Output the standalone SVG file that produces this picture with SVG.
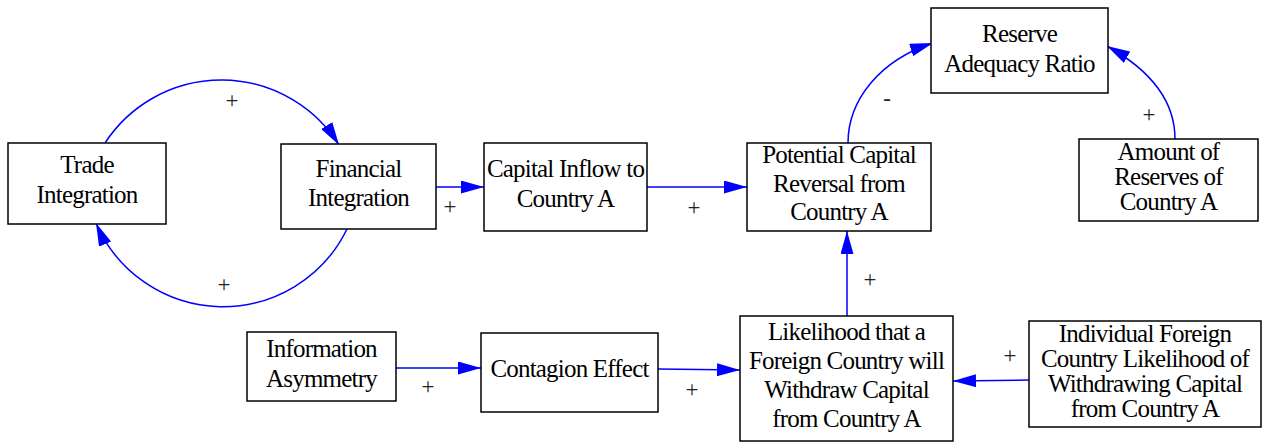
<svg xmlns="http://www.w3.org/2000/svg" width="1263" height="442" viewBox="0 0 1263 442">
<style>
.box{fill:#fff;stroke:#000;stroke-width:1.5}
.t{font-family:"Liberation Serif","Times New Roman",serif;font-size:25px;letter-spacing:-0.8px;fill:#000;text-anchor:middle}
.lbl{font-family:"Liberation Serif","Times New Roman",serif;font-size:23px;fill:#222;text-anchor:middle}
.e{fill:none;stroke:#0000ff;stroke-width:1.5;marker-end:url(#ah)}
</style>
<defs>
<marker id="ah" markerUnits="userSpaceOnUse" markerWidth="23" markerHeight="13" viewBox="0 0 23 13" refX="23" refY="6.5" orient="auto">
<path d="M0,0 L23,6.5 L0,13 z" fill="#0000ff"/>
</marker>
</defs>
<rect width="1263" height="442" fill="#fff"/>
<g id="connectors">
<path class="e" d="M105,143 A139,139 0 0,1 339,145"/>
<path class="e" d="M347,229 A138,138 0 0,1 96,223"/>
<path class="e" d="M436,187 L484,187"/>
<path class="e" d="M647,187 L747,187"/>
<path class="e" d="M848,143 C848,100 880,60 933,43"/>
<path class="e" d="M1175,139 C1175,100 1150,70 1107,46"/>
<path class="e" d="M847,316 L847,231"/>
<path class="e" d="M396,368 L481,368"/>
<path class="e" d="M658,369 L740,370"/>
<path class="e" d="M1029,380 L953,381"/>
<text class="lbl" x="232" y="108">+</text>
<text class="lbl" x="224" y="292">+</text>
<text class="lbl" x="450" y="214">+</text>
<text class="lbl" x="694" y="215">+</text>
<text class="lbl" x="887" y="106">-</text>
<text class="lbl" x="1149" y="122">+</text>
<text class="lbl" x="870" y="287">+</text>
<text class="lbl" x="428" y="394">+</text>
<text class="lbl" x="692" y="397">+</text>
<text class="lbl" x="1010" y="363">+</text>
</g>
<g id="trade">
<rect class="box" x="8" y="143" width="158" height="81"/>
<text class="t" x="87" y="173">Trade</text>
<text class="t" x="87" y="203">Integration</text>
</g>
<g id="financial">
<rect class="box" x="281" y="144" width="155" height="85"/>
<text class="t" x="358.5" y="177">Financial</text>
<text class="t" x="358.5" y="206">Integration</text>
</g>
<g id="inflow">
<rect class="box" x="484" y="143" width="163" height="88"/>
<text class="t" x="565.5" y="177">Capital Inflow to</text>
<text class="t" x="565.5" y="207">Country A</text>
</g>
<g id="reversal">
<rect class="box" x="747" y="143" width="184" height="88"/>
<text class="t" x="839" y="163">Potential Capital</text>
<text class="t" x="839" y="192">Reversal from</text>
<text class="t" x="839" y="220">Country A</text>
</g>
<g id="reserve">
<rect class="box" x="931" y="8" width="177" height="85"/>
<text class="t" x="1019.5" y="42">Reserve</text>
<text class="t" x="1019.5" y="72">Adequacy Ratio</text>
</g>
<g id="amount">
<rect class="box" x="1079" y="139" width="179" height="82"/>
<text class="t" x="1168.5" y="160">Amount of</text>
<text class="t" x="1168.5" y="185">Reserves of</text>
<text class="t" x="1168.5" y="210">Country A</text>
</g>
<g id="info">
<rect class="box" x="247" y="332" width="149" height="69"/>
<text class="t" x="321.5" y="357">Information</text>
<text class="t" x="321.5" y="387">Asymmetry</text>
</g>
<g id="contagion">
<rect class="box" x="481" y="333" width="177" height="79"/>
<text class="t" x="569.5" y="377">Contagion Effect</text>
</g>
<g id="likelihood">
<rect class="box" x="740" y="316" width="213" height="125"/>
<text class="t" x="846.5" y="340">Likelihood that a</text>
<text class="t" x="846.5" y="369">Foreign Country will</text>
<text class="t" x="846.5" y="398">Withdraw Capital</text>
<text class="t" x="846.5" y="427">from Country A</text>
</g>
<g id="individual">
<rect class="box" x="1029" y="321" width="232" height="106"/>
<text class="t" x="1145" y="342">Individual Foreign</text>
<text class="t" x="1145" y="367">Country Likelihood of</text>
<text class="t" x="1145" y="392">Withdrawing Capital</text>
<text class="t" x="1145" y="417">from Country A</text>
</g>
</svg>
